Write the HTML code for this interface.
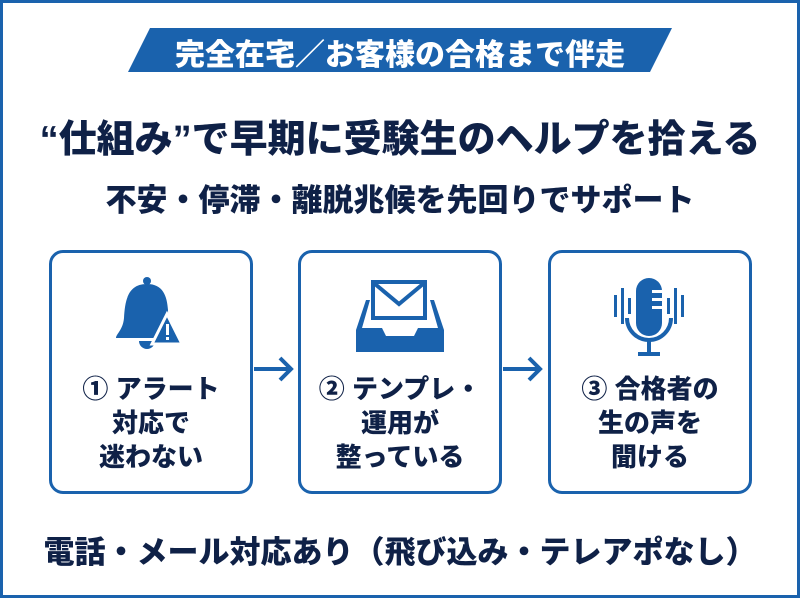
<!DOCTYPE html>
<html><head><meta charset="utf-8"><style>
body{margin:0;width:800px;height:598px;overflow:hidden;background:#fff;font-family:"Liberation Sans","Noto Sans CJK JP",sans-serif;}
.frame{position:absolute;left:0;top:0;width:794px;height:592px;border:3px solid #1a62ad;}
.t{position:absolute;left:0;width:800px;text-align:center;color:#0f2147;font-weight:900;white-space:nowrap;}
.box{position:absolute;top:250px;width:198px;height:238px;border:3px solid #1a62ad;border-radius:14px;background:#fff;}
.lbl{position:absolute;left:0;top:119px;width:198px;text-align:center;font-size:26px;line-height:34px;font-weight:900;color:#0f2147;}
</style></head><body>
<div class="frame"></div>
<div class="box" style="left:49px"><div class="lbl">① アラート<br>対応で<br>迷わない</div></div>
<div class="box" style="left:298px"><div class="lbl">② テンプレ・<br>運用が<br>整っている</div></div>
<div class="box" style="left:548px"><div class="lbl">③ 合格者の<br>生の声を<br>聞ける</div></div>
<svg style="position:absolute;left:0;top:0;z-index:2" width="800" height="598">
<polygon points="150,28 672,28 650,72 128,72" fill="#1a62ad"/>
<g stroke="#1a62ad" stroke-width="4" fill="none"><line x1="254" y1="369" x2="290" y2="369"/><polyline points="280,358 291,369 280,380"/>
<line x1="503" y1="369" x2="539" y2="369"/><polyline points="529,358 540,369 529,380"/></g>
<g fill="#1a62ad">
<circle cx="147" cy="281" r="4"/>
<path d="M147 284 C128 284 125 300 124 318 C123 330 116 334 116 338 L172 338 C170 330 168 322 168 310 C167 296 163 284 147 284Z"/>
<path d="M139 341 A8 8 0 0 0 155 341Z"/>
<polygon points="167,314 152,344 182,344" stroke="#fff" stroke-width="3"/>
<rect x="166" y="324" width="3" height="11" fill="#fff"/><rect x="166" y="337" width="3" height="3" fill="#fff"/>
<rect x="373" y="282" width="52" height="36" fill="#fff" stroke="#1a62ad" stroke-width="4"/>
<polyline points="375,284 399,304 423,284" fill="none" stroke="#1a62ad" stroke-width="4"/>
<path d="M366 300 L356 330 L356 352 L444 352 L444 330 L434 300 L430 300 L438 328 L418 328 L414 336 L386 336 L382 328 L362 328 L370 300Z"/>
<rect x="636" y="278" width="26" height="58" rx="13"/>
<path d="M627 318 A22 22 0 0 0 671 318" fill="none" stroke="#1a62ad" stroke-width="4"/>
<rect x="647" y="340" width="4" height="14"/><rect x="638" y="352" width="22" height="4"/>
<rect x="614" y="295" width="3" height="22"/><rect x="621" y="288" width="3" height="36"/><rect x="628" y="298" width="3" height="16"/>
<rect x="667" y="298" width="3" height="16"/><rect x="674" y="288" width="3" height="36"/><rect x="681" y="295" width="3" height="22"/>
</g>
<g fill="#fff"><rect x="652" y="290" width="10" height="3"/><rect x="652" y="298" width="10" height="3"/><rect x="652" y="306" width="10" height="3"/></g>
</svg>
<div class="t" style="top:30px;font-size:30px;color:#fff;z-index:3">完全在宅／お客様の合格まで伴走</div>
<div class="t" style="top:108px;font-size:38px;">“仕組み”で早期に受験生のヘルプを拾える</div>
<div class="t" style="top:175px;font-size:31px;">不安・停滞・離脱兆候を先回りでサポート</div>
<div class="t" style="top:527px;font-size:31px;">電話・メール対応あり（飛び込み・テレアポなし）</div>
</body></html>
